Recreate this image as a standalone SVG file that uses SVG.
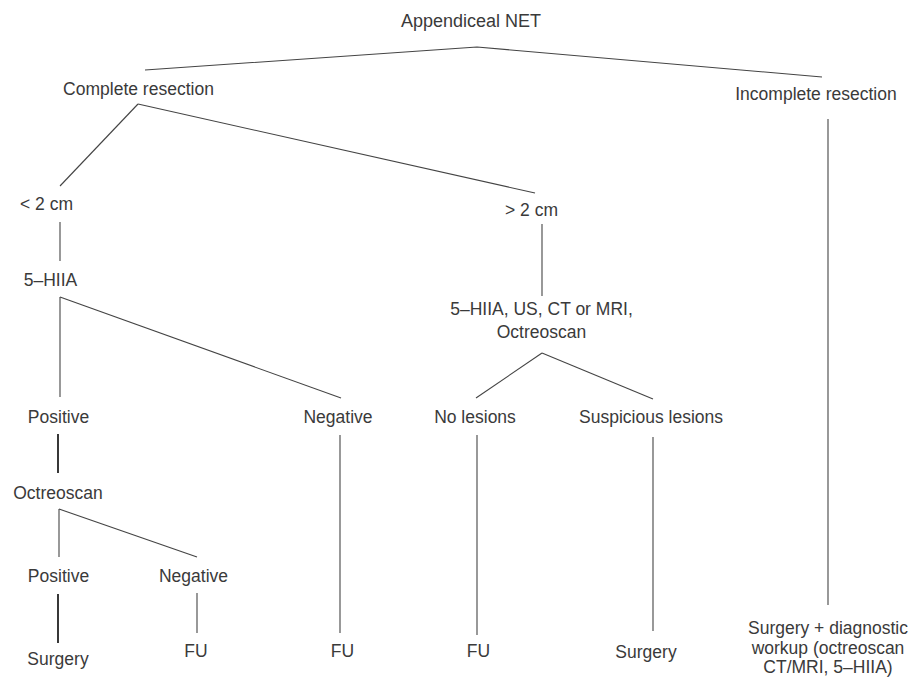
<svg xmlns="http://www.w3.org/2000/svg" width="914" height="679" viewBox="0 0 914 679">
<style>
text{font-family:"Liberation Sans",Arial,sans-serif;font-size:17.5px;fill:#3a3a3a;text-anchor:middle}
.c line,.c polyline{stroke:#444;stroke-width:1.1;fill:none}
.c .b{stroke:#222;stroke-width:1.8}
</style>
<rect width="914" height="679" fill="#fff"/>
<g class="c" id="connectors">
<polyline points="145,70 477,47 822,77"/>
<line x1="138" y1="104" x2="60" y2="186"/>
<line x1="138" y1="104" x2="535" y2="193"/>
<line x1="60" y1="222" x2="60" y2="261"/>
<line x1="542" y1="224" x2="542" y2="296"/>
<line x1="828" y1="119" x2="828" y2="605"/>
<line x1="60" y1="297" x2="60" y2="397"/>
<line x1="60" y1="297" x2="341" y2="398"/>
<line x1="542" y1="353" x2="476" y2="398"/>
<line x1="542" y1="353" x2="653" y2="399"/>
<line class="b" x1="58" y1="434" x2="58" y2="473"/>
<line x1="340" y1="435" x2="340" y2="633"/>
<line x1="477" y1="435" x2="477" y2="635"/>
<line x1="653" y1="437" x2="653" y2="631"/>
<line x1="59" y1="509" x2="59" y2="557"/>
<line x1="59" y1="509" x2="197" y2="557"/>
<line class="b" x1="58" y1="594" x2="58" y2="643"/>
<line x1="197" y1="593" x2="197" y2="633"/>
</g>
<g id="n-root"><text x="471" y="27" style="font-size:18px">Appendiceal NET</text></g>
<g id="n-complete"><text x="138.5" y="95">Complete resection</text></g>
<g id="n-incomplete"><text x="816" y="100">Incomplete resection</text></g>
<g id="n-lt2"><text x="46.5" y="210">&lt; 2 cm</text></g>
<g id="n-gt2"><text x="531.5" y="216">&gt; 2 cm</text></g>
<g id="n-hiaa"><text x="50.5" y="286">5–HIIA</text></g>
<g id="n-workup"><text x="541.5" y="315">5–HIIA, US, CT or MRI,</text><text x="541.5" y="338">Octreoscan</text></g>
<g id="n-pos1"><text x="58.5" y="423">Positive</text></g>
<g id="n-neg1"><text x="338" y="423">Negative</text></g>
<g id="n-nolesions"><text x="475" y="423">No lesions</text></g>
<g id="n-suspicious"><text x="651" y="423">Suspicious lesions</text></g>
<g id="n-octreo"><text x="58" y="499">Octreoscan</text></g>
<g id="n-pos2"><text x="58.5" y="582">Positive</text></g>
<g id="n-neg2"><text x="193.5" y="582">Negative</text></g>
<g id="n-surgery1"><text x="58" y="665">Surgery</text></g>
<g id="n-fu1"><text x="196" y="657">FU</text></g>
<g id="n-fu2"><text x="342.5" y="657">FU</text></g>
<g id="n-fu3"><text x="478.5" y="657">FU</text></g>
<g id="n-surgery2"><text x="646" y="658">Surgery</text></g>
<g id="n-surgery3"><text x="828" y="634">Surgery + diagnostic</text><text x="828" y="654">workup (octreoscan</text><text x="828" y="673">CT/MRI, 5–HIIA)</text></g>
</svg>
